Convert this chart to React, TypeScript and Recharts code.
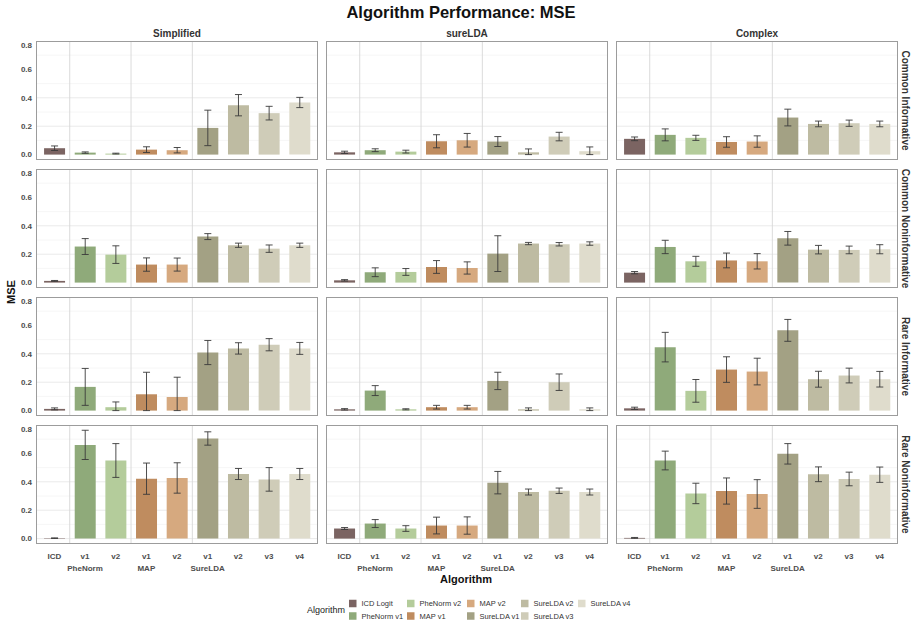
import { Bar, BarChart, CartesianGrid, Cell, ErrorBar, XAxis, YAxis } from 'recharts'

// facets
const SETTINGS = ['Simplified', 'sureLDA', 'Complex']
const SCENARIOS = ['Common Informative', 'Common Noninformative', 'Rare Informative', 'Rare Noninformative']

// bars (one per algorithm, same order everywhere)
const ALGORITHMS = ['ICD Logit', 'PheNorm v1', 'PheNorm v2', 'MAP v1', 'MAP v2', 'SureLDA v1', 'SureLDA v2', 'SureLDA v3', 'SureLDA v4']
const COLORS = ['#7b6462', '#8faa7a', '#b4cc9b', '#bf8c5f', '#d6a97f', '#a3a184', '#bebba2', '#cfccb8', '#dfdccc']
const TICK_LABELS = ['ICD', 'v1', 'v2', 'v1', 'v2', 'v1', 'v2', 'v3', 'v4']
const GROUP_LABELS = ['', 'PheNorm', '', 'MAP', '', 'SureLDA', '', '', '']
const POSITIONS = [1, 2, 3, 4, 5, 6, 7, 8, 9]
const GROUP_BREAKS = [1.5, 3.5, 5.5]

const Y_TICKS = [0, 0.2, 0.4, 0.6, 0.8]
const Y_MINOR = [0.1, 0.3, 0.5, 0.7]

// MSE means and standard deviations
const simplifiedCommonInf = [0.045, 0.014, 0.007, 0.035, 0.031, 0.188, 0.348, 0.292, 0.367]
const simplifiedCommonInfSd = [0.016, 0.005, 0.003, 0.02, 0.019, 0.125, 0.075, 0.048, 0.036]
const sureldaCommonInf = [0.016, 0.031, 0.021, 0.094, 0.101, 0.092, 0.016, 0.127, 0.024]
const sureldaCommonInfSd = [0.008, 0.01, 0.01, 0.046, 0.048, 0.035, 0.024, 0.03, 0.03]
const complexCommonInf = [0.111, 0.139, 0.118, 0.089, 0.092, 0.261, 0.216, 0.221, 0.216]
const complexCommonInfSd = [0.013, 0.042, 0.018, 0.037, 0.04, 0.059, 0.02, 0.022, 0.02]

const simplifiedCommonNon = [0.012, 0.254, 0.197, 0.127, 0.127, 0.324, 0.263, 0.239, 0.263]
const simplifiedCommonNonSd = [0.003, 0.056, 0.062, 0.047, 0.046, 0.021, 0.015, 0.026, 0.015]
const sureldaCommonNon = [0.016, 0.073, 0.075, 0.11, 0.103, 0.204, 0.275, 0.27, 0.275]
const sureldaCommonNonSd = [0.005, 0.031, 0.024, 0.045, 0.043, 0.126, 0.008, 0.012, 0.012]
const complexCommonNon = [0.07, 0.251, 0.15, 0.156, 0.15, 0.312, 0.232, 0.23, 0.235]
const complexCommonNonSd = [0.008, 0.047, 0.035, 0.052, 0.054, 0.048, 0.03, 0.027, 0.032]

const simplifiedRareInf = [0.012, 0.167, 0.024, 0.115, 0.096, 0.409, 0.438, 0.464, 0.438]
const simplifiedRareInfSd = [0.007, 0.13, 0.037, 0.155, 0.139, 0.085, 0.04, 0.043, 0.042]
const sureldaRareInf = [0.009, 0.141, 0.009, 0.024, 0.024, 0.209, 0.009, 0.2, 0.009]
const sureldaRareInfSd = [0.005, 0.035, 0.004, 0.013, 0.013, 0.061, 0.01, 0.058, 0.01]
const complexRareInf = [0.016, 0.447, 0.139, 0.289, 0.275, 0.565, 0.221, 0.247, 0.221]
const complexRareInfSd = [0.008, 0.104, 0.08, 0.09, 0.094, 0.077, 0.056, 0.052, 0.055]

const simplifiedRareNon = [0.003, 0.66, 0.55, 0.422, 0.427, 0.705, 0.455, 0.417, 0.455]
const simplifiedRareNonSd = [0.002, 0.103, 0.119, 0.11, 0.107, 0.047, 0.039, 0.083, 0.039]
const sureldaRareNon = [0.071, 0.106, 0.071, 0.092, 0.092, 0.394, 0.328, 0.337, 0.328]
const sureldaRareNonSd = [0.007, 0.028, 0.02, 0.059, 0.061, 0.079, 0.021, 0.019, 0.021]
const complexRareNon = [0.005, 0.55, 0.318, 0.335, 0.314, 0.597, 0.453, 0.42, 0.45]
const complexRareNonSd = [0.003, 0.066, 0.072, 0.092, 0.101, 0.072, 0.052, 0.048, 0.054]

const MEAN_TABLE = [
  [simplifiedCommonInf, sureldaCommonInf, complexCommonInf],
  [simplifiedCommonNon, sureldaCommonNon, complexCommonNon],
  [simplifiedRareInf, sureldaRareInf, complexRareInf],
  [simplifiedRareNon, sureldaRareNon, complexRareNon],
]
const SD_TABLE = [
  [simplifiedCommonInfSd, sureldaCommonInfSd, complexCommonInfSd],
  [simplifiedCommonNonSd, sureldaCommonNonSd, complexCommonNonSd],
  [simplifiedRareInfSd, sureldaRareInfSd, complexRareInfSd],
  [simplifiedRareNonSd, sureldaRareNonSd, complexRareNonSd],
]

// layout
const FONT = '"Liberation Sans", Arial, Helvetica, sans-serif'
const PANEL_W = 282
const PANEL_H = 119
const Y_AXIS_W = 36
const X_AXIS_H = 34
const COL_X = [36, 326, 616]
const ROW_Y = [41, 169, 297, 425]
const LEGEND_COL_X = [349, 407, 467, 521, 578]
const LEGEND_ROW_Y = [603.5, 616]

function AlgoTick({ x, y, payload }: { x?: number; y?: number; payload?: { value: number } }) {
  const i = (payload?.value ?? 1) - 1
  const style = { fontFamily: FONT, fontSize: 8, fontWeight: 700, fill: '#4d4d4d' }
  return (
    <g>
      <text x={x} y={y} dy="0.71em" textAnchor="middle" style={style}>{TICK_LABELS[i]}</text>
      {GROUP_LABELS[i] && (
        <text x={x} y={(y ?? 0) + 12} dy="0.71em" textAnchor="middle" style={style}>{GROUP_LABELS[i]}</text>
      )}
    </g>
  )
}

function Panel({ row, col }: { row: number; col: number }) {
  const showY = col === 0
  const showX = row === SCENARIOS.length - 1
  const width = PANEL_W + (showY ? Y_AXIS_W : 0)
  const height = PANEL_H + (showX ? X_AXIS_H : 0)
  const left = COL_X[col] - (showY ? Y_AXIS_W : 0)
  const means = MEAN_TABLE[row][col]
  const sds = SD_TABLE[row][col]
  const data = ALGORITHMS.map((algorithm, i) => ({
    algorithm,
    pos: POSITIONS[i],
    mse: means[i],
    // error bars are cut at zero
    err: [Math.min(sds[i], means[i]), sds[i]],
  }))

  return (
    <div style={{ position: 'absolute', left, top: ROW_Y[row], width, height }}>
      <BarChart width={width} height={height} data={data} margin={{ top: 0, right: 0, bottom: 0, left: 0 }}>
        <CartesianGrid vertical={false} horizontalValues={Y_MINOR} stroke="#f4f4f4" strokeWidth={0.8} />
        <CartesianGrid vertical={false} horizontalValues={Y_TICKS} stroke="#e8e8e8" strokeWidth={0.9} />
        <CartesianGrid horizontal={false} verticalValues={GROUP_BREAKS} stroke="#d6d6d6" strokeWidth={0.9} />
        <XAxis
          type="number"
          dataKey="pos"
          domain={[0.4, 9.6]}
          ticks={POSITIONS}
          interval={0}
          allowDataOverflow
          hide={!showX}
          height={X_AXIS_H}
          axisLine={false}
          tickLine={false}
          tickSize={0}
          tickMargin={9}
          tick={<AlgoTick />}
        />
        <YAxis
          type="number"
          domain={[-0.038, 0.8]}
          ticks={Y_TICKS}
          allowDataOverflow
          hide={!showY}
          width={Y_AXIS_W}
          axisLine={false}
          tickLine={false}
          tickSize={0}
          tickMargin={4}
          tickFormatter={(v: number) => v.toFixed(1)}
          tick={{ fontFamily: FONT, fontSize: 8, fontWeight: 700, fill: '#4d4d4d' }}
        />
        <Bar dataKey="mse" barSize={21} isAnimationActive={false}>
          {data.map((d, i) => (
            <Cell key={d.algorithm} fill={COLORS[i]} />
          ))}
          <ErrorBar dataKey="err" direction="y" width={3.5} stroke="#3a3a3a" strokeWidth={0.9} />
        </Bar>
      </BarChart>
      <div
        style={{
          position: 'absolute',
          left: showY ? Y_AXIS_W : 0,
          top: 0,
          width: PANEL_W,
          height: PANEL_H,
          border: '1px solid #9c9c9c',
          boxSizing: 'border-box',
          pointerEvents: 'none',
        }}
      />
    </div>
  )
}

export default function App() {
  return (
    <div style={{ position: 'absolute', left: 0, top: 0, width: 917, height: 627, background: '#fff', fontFamily: FONT }}>
      {SCENARIOS.map((_, r) => SETTINGS.map((_, c) => <Panel key={`${r}-${c}`} row={r} col={c} />))}

      <svg width={917} height={627} style={{ position: 'absolute', left: 0, top: 0, pointerEvents: 'none' }}>
        <text x={461} y={12} textAnchor="middle" dominantBaseline="central" style={{ fontFamily: FONT, fontSize: 16.5, fontWeight: 700, fill: '#111' }}>
          Algorithm Performance: MSE
        </text>

        {SETTINGS.map((s, c) => (
          <text key={s} x={COL_X[c] + PANEL_W / 2} y={33} textAnchor="middle" dominantBaseline="central" style={{ fontFamily: FONT, fontSize: 10, fontWeight: 700, fill: '#333' }}>
            {s}
          </text>
        ))}

        {SCENARIOS.map((s, r) => (
          <text
            key={s}
            transform={`translate(905, ${ROW_Y[r] + PANEL_H / 2}) rotate(90)`}
            textAnchor="middle"
            dominantBaseline="central"
            style={{ fontFamily: FONT, fontSize: 10, fontWeight: 700, fill: '#333' }}
          >
            {s}
          </text>
        ))}

        <text transform="translate(11, 292) rotate(-90)" textAnchor="middle" dominantBaseline="central" style={{ fontFamily: FONT, fontSize: 11, fontWeight: 700, fill: '#111' }}>
          MSE
        </text>
        <text x={466} y={579} textAnchor="middle" dominantBaseline="central" style={{ fontFamily: FONT, fontSize: 11, fontWeight: 700, fill: '#111' }}>
          Algorithm
        </text>

        <text x={307} y={610} dominantBaseline="central" style={{ fontFamily: FONT, fontSize: 9, fill: '#222' }}>
          Algorithm
        </text>
        {ALGORITHMS.map((a, i) => {
          const x = LEGEND_COL_X[Math.floor(i / 2)]
          const y = LEGEND_ROW_Y[i % 2]
          return (
            <g key={a}>
              <rect x={x} y={y - 3.75} width={7.5} height={7.5} fill={COLORS[i]} />
              <text x={x + 12.5} y={y} dominantBaseline="central" style={{ fontFamily: FONT, fontSize: 7.5, fill: '#333' }}>
                {a}
              </text>
            </g>
          )
        })}
      </svg>
    </div>
  )
}
